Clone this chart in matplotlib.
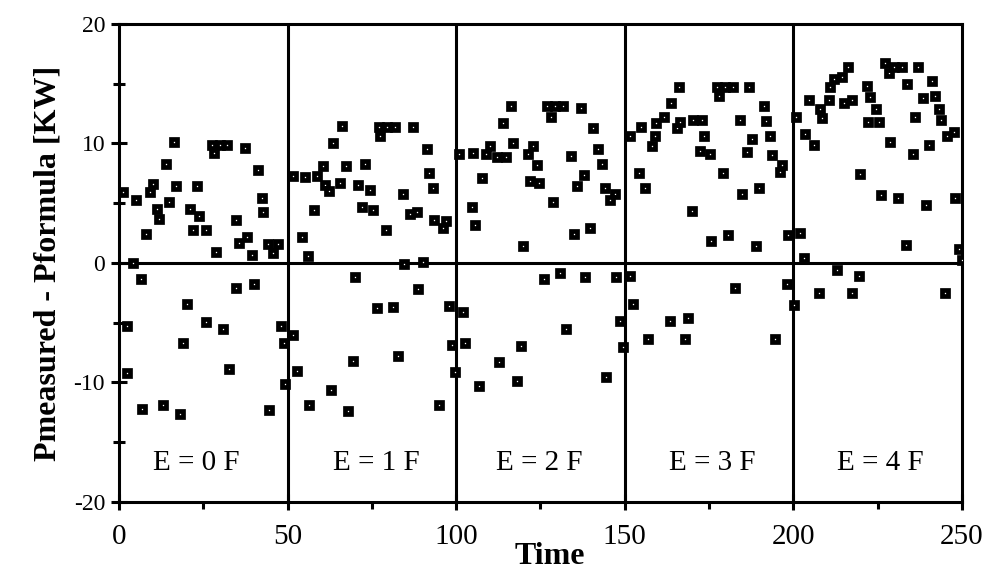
import matplotlib
matplotlib.use("Agg")
import matplotlib.pyplot as plt
from matplotlib.ticker import MultipleLocator

# Residuals (measured minus formula power, kW) for each E level
t_e0 = [1.1, 16.4, 13.9, 10.0, 9.2, 5.2, 16.9, 23.1, 14.8, 11.2, 12.0, 21.1, 23.8, 7.9, 22.0,
        25.7, 27.5, 30.0, 32.1, 28.3, 37.4, 41.3, 42.3, 42.8, 34.6, 35.6, 37.9, 28.7, 39.4,
        44.3, 47.1, 45.8, 4.2, 6.4, 34.7, 40.1, 20.3, 25.8, 31.0, 2.3, 18.9, 48.2, 49.0, 2.5,
        32.7, 49.3, 6.7, 13.1, 18.1, 44.6]
r_e0 = [5.9, 10.1, 8.3, 6.6, 5.9, 5.3, 6.4, 6.4, 5.1, 4.5, 3.7, 4.5, 3.9, 2.4, 2.8,
        2.8, 9.9, 9.9, 9.9, 9.2, 9.6, 7.8, 5.4, 4.3, 3.6, 1.7, 2.2, 0.9, 0.7,
        1.6, 1.6, 0.8, 0.0, -1.3, -2.1, -1.8, -3.4, -4.9, -5.5, -5.3, -6.7, -5.3, -6.7, -9.2,
        -8.9, -10.1, -12.2, -11.9, -12.6, -12.3]

t_e1 = [51.5, 66.1, 77.2, 79.6, 81.9, 77.4, 87.1, 63.6, 91.3, 73.0, 67.3, 60.4, 55.2, 58.8,
        61.1, 62.4, 65.6, 71.0, 74.5, 92.0, 93.0, 84.2, 57.9, 72.0, 75.2, 86.4, 88.5, 93.3,
        97.0, 96.2, 79.2, 54.2, 56.2, 84.6, 90.1, 70.0, 88.8, 76.5, 81.4, 98.0, 51.7, 98.7,
        69.3, 82.6, 52.9, 99.7, 62.9, 56.5, 67.9, 95.0]
r_e1 = [7.3, 11.5, 11.35, 11.35, 11.35, 10.6, 11.35, 10.0, 9.5, 8.3, 8.1, 8.1, 7.2, 7.3,
        6.5, 6.0, 6.7, 6.5, 6.1, 7.5, 6.3, 5.8, 4.4, 4.7, 4.4, 4.1, 4.3, 3.6,
        3.5, 2.9, 2.8, 2.2, 0.6, -0.1, 0.1, -1.2, -2.2, -3.8, -3.65, -3.6, -6.0, -6.9,
        -8.2, -7.8, -9.0, -9.15, -10.6, -11.9, -12.4, -11.9]

t_e2 = [100.9, 105.0, 108.9, 110.1, 112.1, 114.8, 116.8, 116.3, 113.9, 126.9, 129.4, 131.7,
        128.2, 137.1, 140.6, 122.9, 121.2, 123.9, 134.0, 142.2, 143.2, 137.8, 135.8, 122.0,
        124.7, 107.8, 144.2, 147.2, 145.7, 128.7, 104.7, 105.6, 135.0, 139.8, 119.8, 130.9,
        125.9, 138.3, 147.4, 102.0, 132.6, 148.5, 102.7, 119.2, 149.4, 112.6, 106.9, 118.0,
        144.5]
r_e2 = [9.1, 9.2, 9.1, 9.8, 8.9, 8.9, 10.0, 13.1, 11.7, 13.1, 13.1, 13.1,
        12.2, 13.0, 11.3, 9.8, 9.1, 8.2, 8.95, 9.5, 8.3, 7.4, 6.4, 6.9,
        6.7, 7.1, 6.25, 5.8, 5.3, 5.1, 4.7, 3.2, 2.4, 2.9, 1.4, -0.8,
        -1.3, -1.2, -1.2, -4.1, -5.5, -4.85, -6.7, -6.95, -7.0, -8.3, -10.3, -9.9,
        -9.5]

t_e3 = [151.4, 154.8, 159.3, 161.5, 159.0, 158.2, 163.7, 166.0, 165.5, 166.5, 170.2, 172.9,
        173.4, 172.4, 175.2, 177.4, 179.8, 182.1, 177.8, 186.7, 184.1, 191.4, 192.0, 187.7,
        193.2, 186.3, 193.7, 196.6, 196.1, 179.1, 154.1, 156.1, 184.8, 189.7, 169.9, 180.5,
        175.6, 189.0, 198.3, 151.6, 182.6, 198.1, 152.4, 163.3, 168.6, 156.8, 168.0, 194.4]
r_e3 = [10.6, 11.35, 11.7, 12.2, 10.6, 9.8, 13.4, 14.7, 11.3, 11.8, 12.0, 12.0,
        10.6, 9.4, 9.1, 14.7, 14.7, 14.7, 14.0, 14.7, 12.0, 13.1, 11.9, 10.4,
        10.6, 9.3, 9.0, 8.2, 7.6, 7.5, 7.5, 6.25, 5.8, 6.25, 4.35, 2.3,
        1.8, 1.4, 2.3, -1.1, -2.1, -1.8, -3.4, -4.85, -4.6, -6.4, -6.4, -6.4]

t_e4 = [200.8, 203.3, 206.0, 204.5, 207.8, 208.5, 210.5, 210.8, 212.0, 214.5, 216.1, 214.9,
        217.4, 221.7, 222.7, 224.4, 222.1, 225.3, 227.3, 228.3, 229.8, 232.3, 237.0, 233.7,
        241.2, 242.1, 238.4, 243.1, 243.8, 236.2, 245.6, 247.6, 228.6, 235.5, 240.1, 219.7,
        226.0, 230.9, 239.2, 247.8, 202.1, 233.5, 249.0, 203.1, 250.0, 213.0, 219.4, 207.5,
        217.4, 245.1, 200.1]
r_e4 = [12.2, 10.8, 9.9, 13.6, 12.9, 12.1, 13.6, 14.75, 15.4, 15.6, 16.4, 13.4,
        13.6, 14.8, 13.9, 12.9, 11.8, 11.8, 16.7, 15.9, 16.4, 16.4, 16.4, 15.0,
        15.2, 14.0, 13.8, 12.9, 12.0, 12.2, 10.6, 11.0, 10.1, 9.1, 9.9, 7.45,
        5.7, 5.4, 4.85, 5.4, 2.5, 1.5, 1.2, 0.4, 0.25, -0.6, -1.1, -2.5,
        -2.5, -2.5, -3.5]

series = [(t_e0, r_e0), (t_e1, r_e1), (t_e2, r_e2), (t_e3, r_e3), (t_e4, r_e4)]
panel_edges = [50, 100, 150, 200]
panel_labels = ["E = 0 F", "E = 1 F", "E = 2 F", "E = 3 F", "E = 4 F"]
label_x = [23, 76.3, 124.6, 176, 225.8]

plt.rcParams["font.family"] = ["Liberation Serif", "DejaVu Serif"]
plt.rcParams["axes.unicode_minus"] = False

fig = plt.figure(figsize=(9.88, 5.82), dpi=100)
ax = fig.add_axes([0.1204, 0.1375, 0.8533, 0.8213])

lw = 2.2
for t, r in series:
    ax.plot(t, r, linestyle="none", marker="s", markersize=5.0,
            markerfacecolor="white", markeredgecolor="black",
            markeredgewidth=3.4, zorder=4)

for xe in panel_edges:
    ax.axvline(xe, color="black", linewidth=lw, zorder=3)
ax.axhline(0, color="black", linewidth=lw, zorder=3)

for xc, lab in zip(label_x, panel_labels):
    ax.text(xc, -16.7, lab, ha="center", va="center", fontsize=21)

ax.set_xlim(0, 250)
ax.set_ylim(-20, 20)
ax.xaxis.set_major_locator(MultipleLocator(50))
ax.xaxis.set_minor_locator(MultipleLocator(25))
ax.yaxis.set_major_locator(MultipleLocator(10))
ax.yaxis.set_minor_locator(MultipleLocator(5))

for s in ax.spines.values():
    s.set_linewidth(lw)

ax.tick_params(axis="both", which="major", direction="inout", length=12, width=lw)
ax.tick_params(axis="y", which="minor", direction="inout", length=8, width=lw)
ax.tick_params(axis="x", which="minor", direction="out", length=5, width=lw)
ax.tick_params(axis="y", which="major", labelsize=17, pad=4)
ax.tick_params(axis="x", which="major", labelsize=21, pad=10)

ax.set_xlabel("Time", fontsize=23, fontweight="bold", labelpad=-2)
ax.xaxis.set_label_coords(0.511, -0.083)
ax.set_ylabel("Pmeasured - Pformula [KW]", fontsize=23, fontweight="bold", labelpad=8)

fig.savefig("out.png", dpi=100)
